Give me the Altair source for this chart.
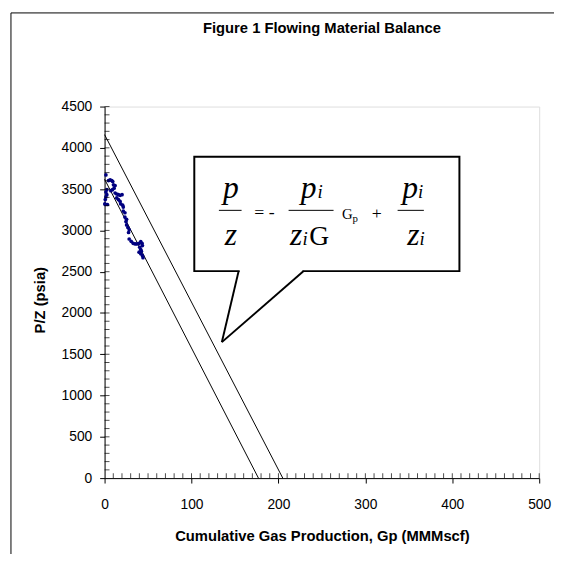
import altair as alt
import pandas as pd

# ---- observed flowing P/Z points (Gp in MMMscf, P/Z in psia) ----
gp = [1.5, 4.5, 6.4, 8.3, 9.4, 10.2, 12.1, 11.0, 9.1, 7.2, 2.6, 1.5, 2.6, 1.5, 0.8,
      0.3, 0.8, 3.3, 12.1, 14.0, 15.9, 17.8, 20.1, 14.0, 15.9, 17.8, 18.5, 20.8, 21.5,
      21.5, 23.4, 23.4, 25.3, 24.6, 25.3, 26.8, 28.3, 27.6, 28.3, 30.6, 32.9, 35.2,
      37.4, 39.7, 41.6, 43.1, 43.5, 40.4, 41.6, 39.7, 41.6, 43.5, 44.2, 42.3]
pz = [3672, 3604, 3612, 3604, 3592, 3552, 3544, 3512, 3493, 3481, 3493, 3465, 3433,
      3405, 3373, 3322, 3314, 3314, 3453, 3441, 3433, 3425, 3433, 3393, 3373, 3353,
      3322, 3306, 3282, 3234, 3214, 3162, 3134, 3107, 3067, 3035, 3007, 2975, 2896,
      2868, 2844, 2836, 2836, 2844, 2864, 2844, 2816, 2796, 2769, 2736, 2717, 2697,
      2669, 2749]

# ---- two straight material-balance lines ----
line_id = ["lower", "lower", "upper", "upper"]
line_gp = [0, 177, 0, 205]
line_pz = [3620, 0, 4160, 0]

# ---- axis ticks ----
x_major = [0, 100, 200, 300, 400, 500]
y_major = [0, 500, 1000, 1500, 2000, 2500, 3000, 3500, 4000, 4500]
x_minor = list(range(10, 501, 10))
y_minor = list(range(100, 4501, 100))

# ---- callout (data units) ----
box_left, box_right, box_top, box_bottom = [103.2], [408.2], [3891], [2507]
tail_base_x = [154.2, 229.0]
tail_base_y = [2507, 2507]
tail_tip_x = [134.9, 134.9]
tail_tip_y = [1647, 1647]

# ---- equation pieces ----
eq_text = ["p", "z", "p", "i", "z", "i", "p", "i", "z", "i"]
eq_x = [136.1, 138.3, 225.6, 244.9, 213.2, 227.6, 342.4, 360.5, 348.1, 362.3]
eq_y = [3390, 2829, 3390, 3390, 2829, 2829, 3390, 3390, 2829, 2829]
eq_size = [32, 32, 32, 19, 32, 19, 32, 19, 32, 19]

eqn_text = ["= -", "G", "G", "p", "+"]
eqn_x = [172.3, 235.5, 273.2, 285.1, 307.3]
eqn_y = [3151, 2829, 3139, 3103, 3139]
eqn_size = [18, 28, 15, 11, 18]

bar_x = [131.5, 211.7, 337.1]
bar_x2 = [157.6, 263.4, 367.3]
bar_y = [3243, 3243, 3243]

W, H = 441, 377
SANS = "Liberation Sans"
SERIF = "Liberation Serif"

xs = alt.Scale(domain=[0, 500], nice=False, zero=False)
ys = alt.Scale(domain=[0, 4500], nice=False, zero=False)

x_axis = alt.Axis(values=x_major, format="d", grid=False, ticks=True, tickSize=5,
                  tickColor="black", domainColor="black", labelFont=SANS,
                  labelFontSize=14, labelColor="black", labelPadding=15,
                  labelFlush=False, labelOverlap=False,
                  title="Cumulative Gas Production, Gp (MMMscf)", titleFont=SANS,
                  titleFontSize=15, titleFontWeight="bold", titleColor="black",
                  titleX=W / 2, titleY=58, titleAlign="center", titleBaseline="middle")
y_axis = alt.Axis(values=y_major, format="d", grid=False, ticks=True, tickSize=5,
                  tickColor="black", domainColor="black", labelFont=SANS,
                  labelFontSize=14, labelColor="black", labelPadding=8,
                  labelFlush=False, labelOverlap=False,
                  title="P/Z (psia)", titleFont=SANS, titleFontSize=15,
                  titleFontWeight="bold", titleColor="black", titleX=-66,
                  titleY=196, titleAngle=270, titleAlign="center",
                  titleBaseline="middle")


def X(f, **kw):
    return alt.X(f, type="quantitative", scale=xs, axis=x_axis, **kw)


def Y(f, **kw):
    return alt.Y(f, type="quantitative", scale=ys, axis=y_axis, **kw)


pts_df = pd.DataFrame({"gp": gp, "pz": pz})
lines_df = pd.DataFrame({"id": line_id, "gp": line_gp, "pz": line_pz})

frame = alt.Chart(pd.DataFrame({"a": [0]})).mark_rect(
    filled=False, stroke="black", strokeWidth=1, clip=False
).encode(x=alt.value(-95), x2=alt.value(700), y=alt.value(-95), y2=alt.value(700))

lines = alt.Chart(lines_df).mark_line(color="black", strokeWidth=1).encode(
    x=X("gp"), y=Y("pz"), detail="id:N",
)

points = alt.Chart(pts_df).mark_circle(size=14, color="#000080", opacity=1).encode(
    x=X("gp"), y=Y("pz")
)

xminor = alt.Chart(pd.DataFrame({"v": x_minor})).mark_tick(
    orient="vertical", size=5, thickness=1, color="black"
).encode(x=X("v"), y=alt.value(H - 2.5))

yminor = alt.Chart(pd.DataFrame({"v": y_minor})).mark_tick(
    orient="horizontal", size=5, thickness=1, color="black"
).encode(y=Y("v"), x=alt.value(2.5))

box = alt.Chart(pd.DataFrame({"l": box_left, "r": box_right, "t": box_top,
                              "b": box_bottom})).mark_rect(
    fill="white", stroke="black", strokeWidth=2
).encode(x=X("l"), x2="r", y=Y("t"), y2="b")

tail_df = pd.DataFrame({"bx": tail_base_x, "by": tail_base_y,
                        "tx": tail_tip_x, "ty": tail_tip_y})
cover = alt.Chart(pd.DataFrame({"a": [tail_base_x[0] + 1.2], "b": [tail_base_x[1] - 1.2],
                                "y": [tail_base_y[0]]})).mark_rule(
    color="white", strokeWidth=3
).encode(x=X("a"), x2="b", y=Y("y"))
tail = alt.Chart(tail_df).mark_rule(color="black", strokeWidth=2).encode(
    x=X("bx"), y=Y("by"), x2="tx", y2="ty"
)

eq_it = alt.Chart(pd.DataFrame({"t": eq_text, "x": eq_x, "y": eq_y, "s": eq_size})).mark_text(
    font=SERIF, fontStyle="italic", align="left", baseline="alphabetic", color="black"
).encode(x=X("x"), y=Y("y"), text="t:N", size=alt.Size("s:Q", scale=None, legend=None))

eq_rm = alt.Chart(pd.DataFrame({"t": eqn_text, "x": eqn_x, "y": eqn_y, "s": eqn_size})).mark_text(
    font=SERIF, align="left", baseline="alphabetic", color="black"
).encode(x=X("x"), y=Y("y"), text="t:N", size=alt.Size("s:Q", scale=None, legend=None))

bars = alt.Chart(pd.DataFrame({"a": bar_x, "b": bar_x2, "y": bar_y})).mark_rule(
    color="black", strokeWidth=1
).encode(x=X("a"), x2="b", y=Y("y"))

chart = alt.layer(
    frame, lines, points, xminor, yminor, box, cover, tail, eq_it, eq_rm, bars
).properties(
    width=W, height=H,
    title=alt.TitleParams("Figure 1 Flowing Material Balance", font=SANS, fontSize=15,
                          fontWeight="bold", color="black", anchor="middle",
                          frame="group", baseline="alphabetic", offset=0, dy=36),
    padding={"left": 98, "top": 96, "right": 15, "bottom": 73},
    autosize="none",
).configure_view(stroke="#808080", strokeWidth=1).configure(background="white")

chart.save("out.html", embed_options={"renderer": "svg", "actions": False})
